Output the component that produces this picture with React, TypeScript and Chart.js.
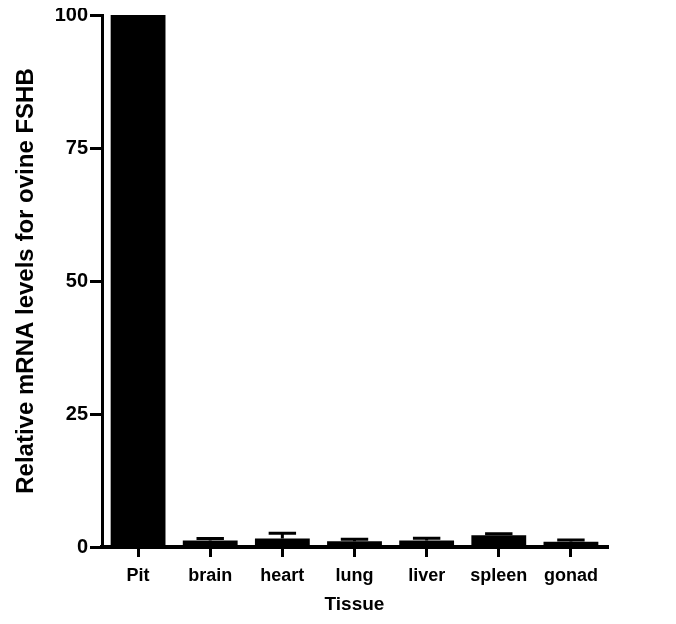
import React, { useEffect, useRef } from "react";
import { Chart, registerables } from "chart.js";

Chart.register(...registerables);

const categories = ["Pit", "brain", "heart", "lung", "liver", "spleen", "gonad"];
const values = [100, 1.2, 1.6, 1.1, 1.2, 2.2, 1.0];
const errors = [0, 0.4, 1.0, 0.35, 0.45, 0.3, 0.3];
const yTicks = [0, 25, 50, 75, 100];

const FONT = "'Liberation Sans', Arial, sans-serif";

const errorBarPlugin = {
  id: "errorBars",
  afterDatasetsDraw(chart: any) {
    const meta = chart.getDatasetMeta(0);
    const y = chart.scales.y;
    const ctx = chart.ctx;
    ctx.save();
    ctx.strokeStyle = "#000";
    ctx.lineWidth = 3;
    meta.data.forEach((bar: any, i: number) => {
      const e = errors[i];
      if (!e) return;
      const x = bar.x;
      const yTop = y.getPixelForValue(values[i] + e);
      const yBase = y.getPixelForValue(values[i]);
      const cap = bar.width * 0.25;
      ctx.beginPath();
      ctx.moveTo(x, yBase);
      ctx.lineTo(x, yTop);
      ctx.moveTo(x - cap, yTop);
      ctx.lineTo(x + cap, yTop);
      ctx.stroke();
    });
    ctx.restore();
  },
};

export default function App() {
  const ref = useRef<HTMLCanvasElement | null>(null);
  useEffect(() => {
    if (!ref.current) return;
    const chart = new Chart(ref.current, {
      type: "bar",
      data: {
        labels: categories,
        datasets: [
          {
            data: values,
            backgroundColor: "#000",
            borderWidth: 0,
            categoryPercentage: 1,
            barPercentage: 0.76,
          },
        ],
      },
      options: {
        animation: false,
        responsive: true,
        maintainAspectRatio: false,
        layout: { padding: { top: 0, right: 61, left: 0, bottom: 0 } },
        plugins: { legend: { display: false }, tooltip: { enabled: false } },
        scales: {
          x: {
            grid: {
              display: true,
              drawOnChartArea: false,
              drawTicks: true,
              tickLength: 10,
              lineWidth: 3,
              color: "#000",
              offset: false,
            },
            border: { display: true, width: 4, color: "#000" },
            ticks: {
              color: "#000",
              padding: 8,
              font: { family: FONT, size: 18, weight: "bold" },
            },
            title: {
              display: true,
              text: "Tissue",
              color: "#000",
              padding: { top: 5, bottom: 0 },
              font: { family: FONT, size: 19, weight: "bold" },
            },
            afterFit: (s: any) => {
              s.height = 69;
            },
          },
          y: {
            min: 0,
            max: 100,
            afterBuildTicks: (s: any) => {
              s.ticks = yTicks.map((v) => ({ value: v }));
            },
            grid: {
              display: true,
              drawOnChartArea: false,
              drawTicks: true,
              tickLength: 12,
              lineWidth: 3,
              color: "#000",
            },
            border: { display: true, width: 3, color: "#000" },
            ticks: {
              color: "#000",
              padding: 2,
              font: { family: FONT, size: 20, weight: "bold" },
            },
            title: {
              display: true,
              text: "Relative mRNA levels for ovine FSHB",
              color: "#000",
              padding: { top: 4, bottom: 4 },
              font: { family: FONT, size: 24, weight: "bold" },
            },
            afterFit: (s: any) => {
              s.width = 94;
            },
          },
        },
      },
      plugins: [errorBarPlugin],
    });
    return () => chart.destroy();
  }, []);
  return (
    <div style={{ width: 660, height: 615, marginTop: -7, position: "relative" }}>
      <canvas ref={ref} />
    </div>
  );
}
